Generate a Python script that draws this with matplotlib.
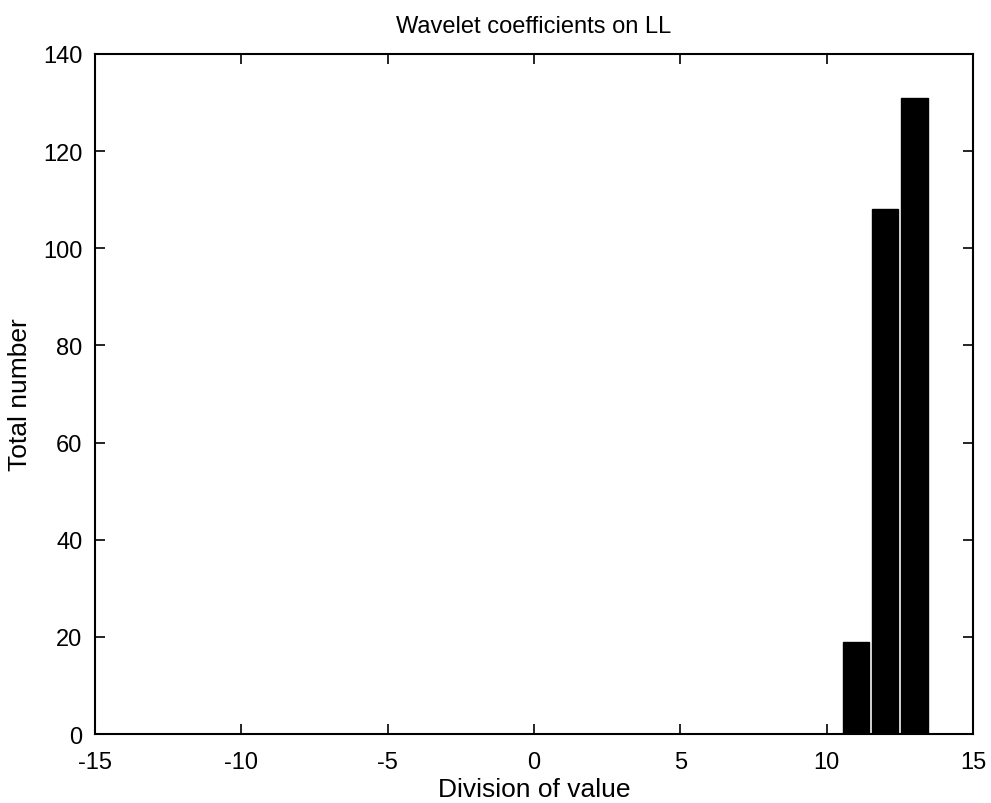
import matplotlib
matplotlib.use("Agg")
import matplotlib.pyplot as plt

centers = [11, 12, 13]
counts = [19, 108, 131]
xticks = [-15, -10, -5, 0, 5, 10, 15]
yticks = [0, 20, 40, 60, 80, 100, 120, 140]

plt.rcParams['font.family'] = ['Liberation Sans', 'DejaVu Sans']
plt.rcParams['axes.unicode_minus'] = False

fig = plt.figure(figsize=(9.91, 8.04), dpi=100)
ax = fig.add_axes([0.0959, 0.0858, 0.9818 - 0.0959, 0.9316 - 0.0858])
ax.bar(centers, counts, width=0.9, color='black', edgecolor='black')
ax.set_xlim(-15, 15)
ax.set_ylim(0, 140)
ax.set_xticks(xticks)
ax.set_yticks(yticks)
ax.tick_params(direction='in', length=7, width=1.2, top=True, right=True, labelsize=17)
ax.tick_params(axis='x', pad=12)
ax.tick_params(axis='y', pad=9)
for s in ax.spines.values():
    s.set_linewidth(1.5)
ax.set_title('Wavelet coefficients on LL', fontsize=17, pad=16)
ax.set_xlabel('Division of value', fontsize=19, labelpad=3)
ax.set_ylabel('Total number', fontsize=19, labelpad=8)
fig.savefig('out.png', dpi=100)
